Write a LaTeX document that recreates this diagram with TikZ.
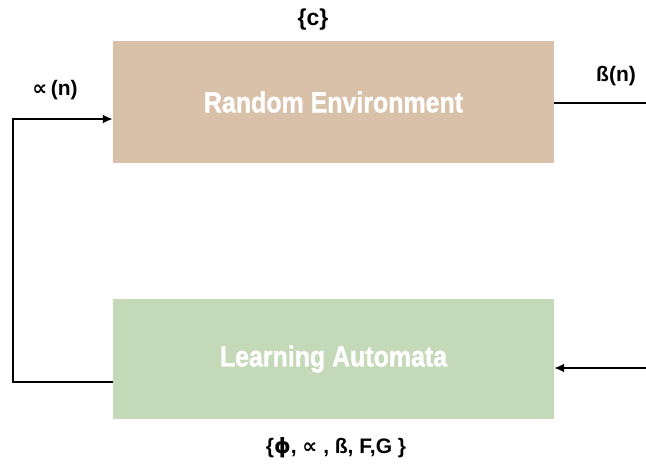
\documentclass[tikz,border=0pt]{standalone}
\usepackage{fontspec}
\setmainfont{Liberation Sans}
\newfontfamily\boxfont{Liberation Sans}[FakeStretch=0.86,FakeBold=1.2]
\newfontfamily\symfont{DejaVu Sans}
\usetikzlibrary{arrows.meta,calc}
\definecolor{envcol}{HTML}{D9C1A9}
\definecolor{lacol}{HTML}{C4D9B8}
\tikzset{
  block/.style={minimum width=441pt, inner sep=0pt, text=white,
    font=\boxfont\bfseries\fontsize{29}{32}\selectfont},
  lbl/.style={inner sep=0pt, font=\bfseries\fontsize{21}{24}\selectfont},
  wire/.style={line width=2.4pt},
  arr/.style={wire, -{Latex[length=10pt,width=9pt]}}
}
\begin{document}
\begin{tikzpicture}[x=1pt,y=-1pt]
\useasboundingbox (0,0) rectangle (646,466);
\node[block, fill=envcol, minimum height=122pt] (env) at (333.5,102) {Random Environment};
\node[block, fill=lacol, minimum height=120pt] (la) at (333.5,359) {Learning Automata};
\node[lbl, font=\bfseries\fontsize{23}{26}\selectfont] (c) at (313,20) {\{c\}};
\node[lbl] (alpha) at (55,90) {{\symfont\bfseries ∝}\,(n)};
\node[lbl] (beta) at (616,76) {ß(n)};
\node[lbl] (set) at (336,448) {\{{\symfont\bfseries ϕ}, {\symfont\bfseries ∝} , ß, F,G \}};
\coordinate (lt) at (13,119);
\coordinate (lb) at (13,382);
\coordinate (rt) at (646,103);
\coordinate (rb) at (646,368);
\draw[arr] (lb -| la.west) -- (lb) -- (lt) -- (lt -| env.west);
\draw[wire] (rt -| env.east) -- (rt);
\draw[arr] (rb) -- (rb -| la.east);
\end{tikzpicture}
\end{document}
